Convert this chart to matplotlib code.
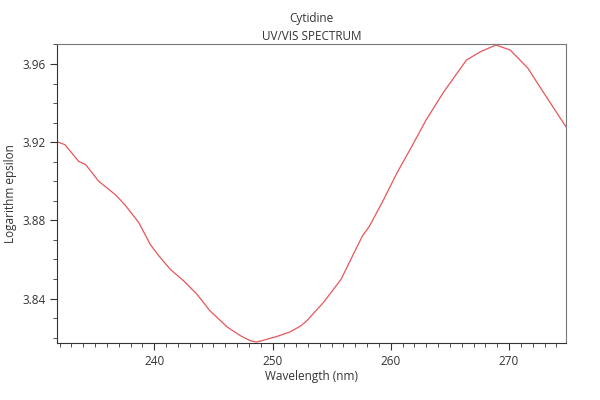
import matplotlib
matplotlib.use('Agg')
import matplotlib.pyplot as plt
from matplotlib.ticker import MultipleLocator

# spectrum
wavelength = [231.8, 232.45, 233.6, 234.2, 235.3, 236.7, 237.5, 238.7, 239.66, 240.3,
              241.35, 242.5, 243.6, 244.7, 246.2, 247.3, 248.1, 248.6, 249.0, 250.4,
              251.5, 252.4, 252.9, 254.3, 255.8, 256.9, 257.6, 258.2, 259.4, 260.5,
              261.7, 263.0, 264.5, 266.4, 267.6, 268.9, 270.1, 271.6, 272.4, 273.5,
              274.8]
log_eps = [3.9202, 3.9187, 3.9102, 3.9085, 3.9000, 3.8932, 3.8881, 3.8788, 3.8677, 3.8625,
           3.8550, 3.8490, 3.8423, 3.8338, 3.8253, 3.8210, 3.8185, 3.8178, 3.8183, 3.8207,
           3.8230, 3.8261, 3.8287, 3.8380, 3.8499, 3.8635, 3.8720, 3.8771, 3.8907, 3.9040,
           3.9170, 3.9315, 3.9459, 3.9620, 3.9663, 3.9697, 3.9671, 3.9578, 3.9502, 3.9400,
           3.9280]

plt.rcParams['font.family'] = ['Open Sans', 'DejaVu Sans']
fig = plt.figure(figsize=(6, 4), dpi=100)
ax = fig.add_axes([0.0955, 0.143, 0.8475, 0.747])
ax.plot(wavelength, log_eps, color='#e8555a', linewidth=0.9)

ax.set_xlim(231.8, 274.8)
ax.set_ylim(3.8174, 3.9702)
ax.xaxis.set_major_locator(MultipleLocator(10))
ax.xaxis.set_minor_locator(MultipleLocator(1))
ax.yaxis.set_major_locator(MultipleLocator(0.04))
ax.yaxis.set_minor_locator(MultipleLocator(0.01))
ax.tick_params(which='both', top=False, right=False, labelsize=8.5, colors='#333333')
ax.tick_params(which='major', length=5)
ax.tick_params(which='minor', length=3)
for s in ax.spines.values():
    s.set_color('#777777')
ax.spines['left'].set_color('#333333')
ax.spines['bottom'].set_color('#333333')

ax.set_xlabel('Wavelength (nm)', fontsize=8.5, color='#333333', labelpad=2)
ax.set_ylabel('Logarithm epsilon', fontsize=8.5, color='#333333')
ax.set_title('Cytidine\nUV/VIS SPECTRUM', fontsize=8.5, color='#333333', pad=3, linespacing=1.5)

fig.savefig('out.png', dpi=100)
